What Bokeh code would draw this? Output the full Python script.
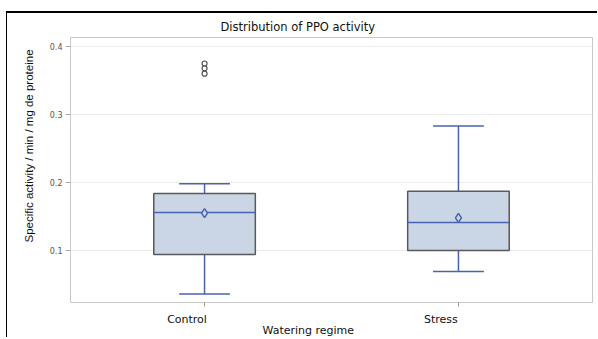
import numpy as np
from bokeh.plotting import figure
from bokeh.models import Range1d, FixedTicker, LinearAxis, Title
from bokeh.embed import file_html
from bokeh.resources import INLINE

# ---- data ----
categories = ["Control", "Stress"]
q1 = [0.094, 0.100]
median = [0.156, 0.141]
q3 = [0.184, 0.187]
whisker_low = [0.036, 0.069]
whisker_high = [0.198, 0.283]
means = [0.155, 0.148]
outlier_cat = ["Control", "Control", "Control"]
outlier_val = [0.375, 0.368, 0.360]
y_ticks = [0.1, 0.2, 0.3, 0.4]
y_tick_labels = ["0.1", "0.2", "0.3", "0.4"]

title_text = "Distribution of PPO activity"
x_title = "Watering regime"
y_title = "Specific activity / min / mg de proteine"

# ---- styles ----
FONT = "DejaVu Sans"
FONT2 = "Liberation Sans"
BOX_FILL = "#CAD5E5"
BOX_LINE = "#5a5a5a"
BLUE = "#4a63b0"
BOX_W = 0.4
CAP_W = 0.2
LABEL_SHIFT = 0.069   # category labels sit a little left of their ticks

xpos = [i + 0.5 for i in range(len(categories))]
pos_of = dict(zip(categories, xpos))

X0, X1 = -0.028, 2.028
p = figure(width=591, height=326, output_backend="svg", toolbar_location=None,
           x_range=Range1d(X0, X1), y_range=Range1d(0.02353, 0.41324),
           x_axis_location=None,
           min_border_left=63, min_border_right=6, min_border_top=24,
           min_border_bottom=37)
p.styles = {"margin-left": "6px", "margin-top": "11px",
            "border-top": "2px solid black", "border-left": "1px solid black"}

p.title.text = title_text
p.title.align = "left"
p.title.offset = 150
p.title.text_font = FONT
p.title.text_font_size = "11.5px"
p.title.text_font_style = "normal"
p.title.text_color = "#111111"
p.title.standoff = 7

p.outline_line_color = "#c8c8c8"
p.xgrid.grid_line_color = None
p.ygrid.grid_line_color = "#ebebeb"
p.ygrid.ticker = FixedTicker(ticks=y_ticks)

# y axis
p.yaxis.ticker = FixedTicker(ticks=y_ticks)
p.yaxis.major_label_overrides = dict(zip(y_ticks, y_tick_labels))
p.yaxis.major_label_text_font = FONT
p.yaxis.major_label_text_font_size = "8px"
p.yaxis.major_label_text_color = "#555555"
p.yaxis.axis_line_color = None
p.yaxis.major_tick_line_color = "#aaaaaa"
p.yaxis.major_tick_in = 0
p.yaxis.major_tick_out = 5
p.yaxis.minor_tick_line_color = None
p.yaxis.major_label_standoff = 3

p.add_layout(Title(text=y_title, align="left", offset=60, standoff=24,
                   text_font=FONT2, text_font_size="11.5px",
                   text_font_style="normal", text_color="#111111"), "left")

# x axis: category labels (major, unticked) + real tick marks (minor ticks)
p.extra_x_ranges = {"lab": Range1d(X0 + LABEL_SHIFT, X1 + LABEL_SHIFT)}
lab_axis = LinearAxis(x_range_name="lab",
                      ticker=FixedTicker(ticks=xpos,
                                         minor_ticks=[x + LABEL_SHIFT for x in xpos]),
                      bounds=(0.38, 1.576),
                      major_label_overrides=dict(zip(xpos, categories)),
                      axis_line_color=None, major_tick_line_color=None,
                      minor_tick_line_color="#999999", minor_tick_line_width=1,
                      minor_tick_in=0, minor_tick_out=4,
                      major_tick_in=0, major_tick_out=4,
                      major_label_standoff=6,
                      major_label_text_font=FONT, major_label_text_font_size="11px",
                      major_label_text_color="#111111")
p.add_layout(lab_axis, "below")
p.add_layout(Title(text=x_title, align="left", offset=192, standoff=-17,
                   text_font=FONT, text_font_size="11px",
                   text_font_style="normal", text_color="#111111"), "below")

# whiskers
p.segment(x0=xpos, x1=xpos, y0=q3, y1=whisker_high, line_color=BLUE, line_width=1.5)
p.segment(x0=xpos, x1=xpos, y0=q1, y1=whisker_low, line_color=BLUE, line_width=1.5)
x_l = [x - CAP_W / 2 for x in xpos]
x_r = [x + CAP_W / 2 for x in xpos]
p.segment(x0=x_l, x1=x_r, y0=whisker_high, y1=whisker_high, line_color=BLUE, line_width=1.5)
p.segment(x0=x_l, x1=x_r, y0=whisker_low, y1=whisker_low, line_color=BLUE, line_width=1.5)

# boxes
p.vbar(x=xpos, top=q3, bottom=q1, width=BOX_W, fill_color=BOX_FILL,
       line_color=BOX_LINE, line_width=1.5)
b_l = [x - BOX_W / 2 for x in xpos]
b_r = [x + BOX_W / 2 for x in xpos]
p.segment(x0=b_l, x1=b_r, y0=median, y1=median, line_color=BLUE, line_width=1.5)

# means
p.scatter(x=xpos, y=means, marker="diamond", size=9, fill_color=BOX_FILL,
          line_color=BLUE, line_width=1.5)

# outliers
p.scatter(x=[pos_of[c] for c in outlier_cat], y=outlier_val, marker="circle", size=5,
          fill_color=None, line_color="#555555", line_width=1.2)

open("out.html", "w").write(file_html(p, INLINE))
